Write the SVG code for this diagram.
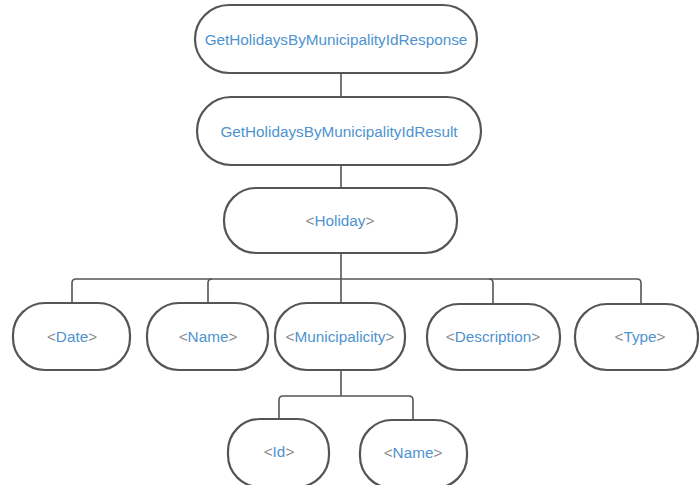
<svg xmlns="http://www.w3.org/2000/svg" width="699" height="485" viewBox="0 0 699 485">
<style>
.n{fill:#fff;stroke:#555;stroke-width:2.2}
.c{fill:none;stroke:#555;stroke-width:1.6;stroke-linejoin:round}
.t{font-family:"Liberation Sans",Arial,sans-serif;font-size:15.3px;fill:#4e93d0;text-anchor:middle;dominant-baseline:central}
.b{fill:#8a8a8a}
</style>
<rect width="699" height="485" fill="#fff"/>
<g id="connectors">
<path class="c" d="M341 73V97"/>
<path class="c" d="M341 165V188"/>
<path class="c" d="M341 253V303"/>
<path class="c" d="M72 303V283Q72 279 76 279H637Q641 279 641 283V304"/>
<path class="c" d="M208 303V283Q208 279 212 279"/>
<path class="c" d="M493 304V283Q493 279 489 279"/>
<path class="c" d="M341 370V396"/>
<path class="c" d="M279 419V400Q279 396 283 396H409Q413 396 413 400V419"/>
</g>
<g id="response"><rect class="n" x="195" y="5" width="282" height="68" rx="34"/><text class="t" x="336" y="39">GetHolidaysByMunicipalityIdResponse</text></g>
<g id="result"><rect class="n" x="197" y="97" width="284" height="68" rx="34"/><text class="t" x="339" y="131">GetHolidaysByMunicipalityIdResult</text></g>
<g id="holiday"><rect class="n" x="224" y="188" width="233" height="65" rx="32"/><text class="t" x="340" y="220"><tspan class="b">&lt;</tspan>Holiday<tspan class="b">&gt;</tspan></text></g>
<g id="date"><rect class="n" x="13" y="303" width="117" height="67" rx="32"/><text class="t" x="72" y="336"><tspan class="b">&lt;</tspan>Date<tspan class="b">&gt;</tspan></text></g>
<g id="name"><rect class="n" x="147" y="303" width="121" height="67" rx="32"/><text class="t" x="208" y="336"><tspan class="b">&lt;</tspan>Name<tspan class="b">&gt;</tspan></text></g>
<g id="municipalicity"><rect class="n" x="275" y="303" width="130" height="67" rx="32"/><text class="t" x="340" y="336"><tspan class="b">&lt;</tspan>Municipalicity<tspan class="b">&gt;</tspan></text></g>
<g id="description"><rect class="n" x="427" y="304" width="133" height="66" rx="32"/><text class="t" x="493" y="336"><tspan class="b">&lt;</tspan>Description<tspan class="b">&gt;</tspan></text></g>
<g id="type"><rect class="n" x="575" y="304" width="123" height="66" rx="32"/><text class="t" x="640" y="336"><tspan class="b">&lt;</tspan>Type<tspan class="b">&gt;</tspan></text></g>
<g id="id"><rect class="n" x="228" y="419" width="101" height="68" rx="32"/><text class="t" x="279" y="451"><tspan class="b">&lt;</tspan>Id<tspan class="b">&gt;</tspan></text></g>
<g id="name2"><rect class="n" x="360" y="420" width="107" height="68" rx="32"/><text class="t" x="413" y="452"><tspan class="b">&lt;</tspan>Name<tspan class="b">&gt;</tspan></text></g>
</svg>
